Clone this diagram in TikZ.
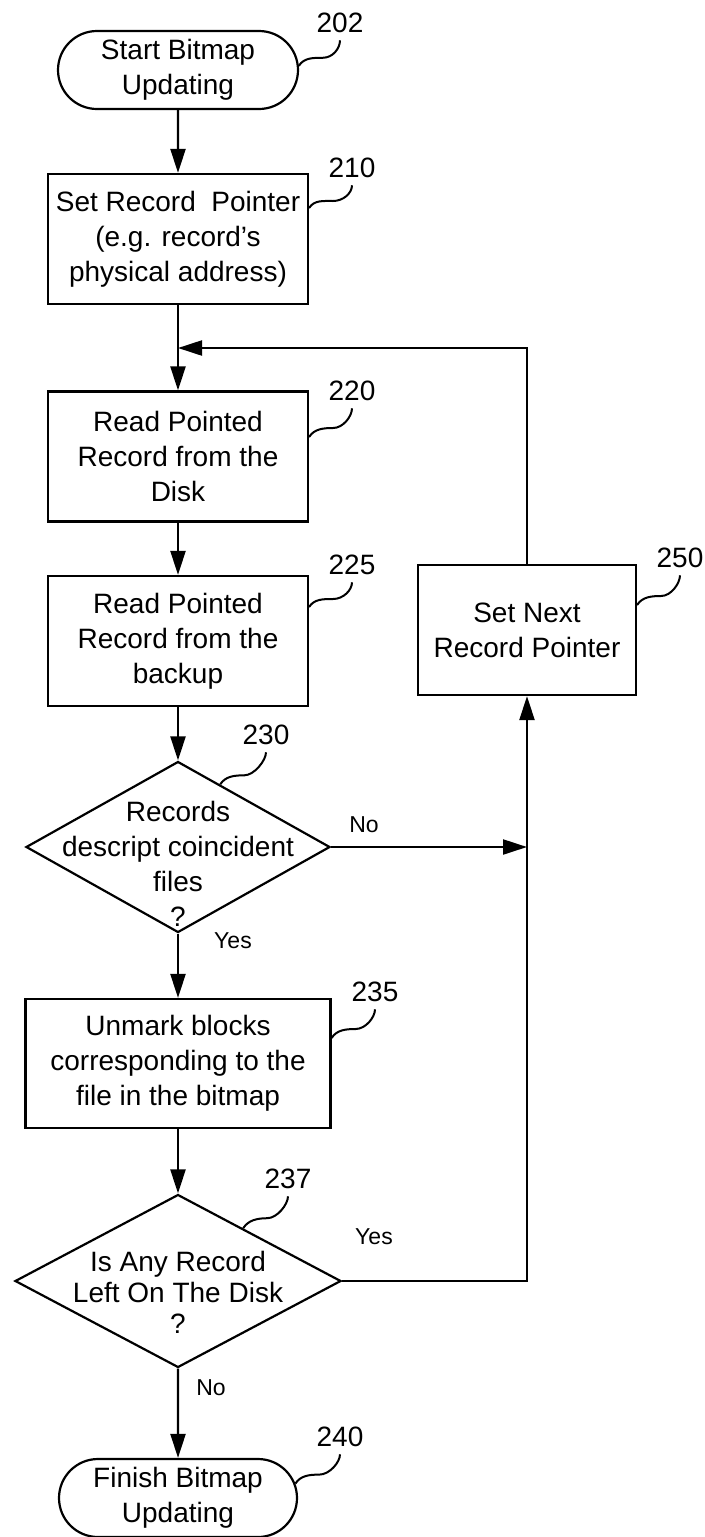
\documentclass[tikz,border=0pt]{standalone}
\usepackage{fontspec}
\setmainfont{Liberation Sans}
\usetikzlibrary{arrows.meta,shapes.geometric,shapes.misc}

\begin{document}
\begin{tikzpicture}[x=0.5pt,y=-0.5pt,
  every node/.style={font=\fontsize{14}{17.5}\selectfont},
  terminal/.style={rounded rectangle, draw, line width=1.1pt, align=center,
    minimum width=120pt, minimum height=39pt, inner sep=0pt},
  process/.style={rectangle, draw, line width=1.1pt, align=center,
    minimum height=65pt, inner sep=0pt},
  decision/.style={diamond, draw, line width=1.1pt, inner sep=0pt},
  dtext/.style={align=center, inner sep=0pt},
  flow/.style={line width=1.1pt, -{Triangle[length=12pt,width=7.5pt]}},
  callout/.style={line width=1pt},
  refnum/.style={inner sep=3.5pt},
  answer/.style={font=\fontsize{11.5}{14}\selectfont, inner sep=0pt}]
  \useasboundingbox (0,0) rectangle (705,1537);

  % main column
  \node[terminal] (t202) at (178,70) {Start Bitmap\\Updating};
  \node[process, minimum width=130pt] (b210) at (178,239)
    {Set Record\ \ Pointer\\(e.g. record’s\\physical address)};
  \node[process, minimum width=130pt] (b220) at (178,456.5)
    {Read Pointed\\Record from the\\Disk};
  \node[process, minimum width=130pt] (b225) at (178,641)
    {Read Pointed\\Record from the\\backup};
  \node[decision, minimum width=152pt, minimum height=85.5pt] (d230) at (178,847) {};
  \node[dtext] (d230t) at (178,864) {Records\\descript coincident\\files\\?};
  \node[process, minimum width=152.5pt, minimum height=64.5pt] (b235) at (178,1063.5)
    {Unmark blocks\\corresponding to the\\file in the bitmap};
  \node[decision, minimum width=163pt, minimum height=86.5pt] (d237) at (178,1281) {};
  \node[dtext, font=\fontsize{14}{15.5}\selectfont] (d237t) at (178,1292)
    {Is Any Record\\Left On The Disk\\?};
  \node[terminal, minimum width=119pt] (t240) at (178,1498) {Finish Bitmap\\Updating};

  % loop back
  \node[process, minimum width=109pt] (b250) at (527,630) {Set Next\\Record Pointer};
  \coordinate (jTop) at (178,348);

  % flow lines
  \draw[flow] (t202) -- (b210);
  \draw[flow] (b210) -- (b220);
  \draw[flow] (b250.north) |- (jTop);
  \draw[flow] (b220) -- (b225);
  \draw[flow] (b225) -- (d230);
  \draw[flow] (d230.east) -- (d230.east -| b250.south);
  \draw[flow] (d230) -- (b235);
  \draw[flow] (b235) -- (d237);
  \draw[flow] (d237.east) -| (b250.south);
  \draw[flow] (d237) -- (t240);

  \node[answer] (aNo1) at (364,825) {No};
  \node[answer] (aYes1) at (233,941) {Yes};
  \node[answer] (aYes2) at (374,1237) {Yes};
  \node[answer] (aNo2) at (211,1388) {No};

  % reference numbers
  \node[refnum] (n202) at (340,23) {202};
  \node[refnum] (n210) at (352,168) {210};
  \node[refnum] (n220) at (352,391) {220};
  \node[refnum] (n225) at (352,565) {225};
  \node[refnum] (n250) at (680,558) {250};
  \node[refnum] (n230) at (266,735) {230};
  \node[refnum] (n235) at (375,992) {235};
  \node[refnum] (n237) at (288,1179) {237};
  \node[refnum] (n240) at (340,1437) {240};

  \draw[callout] (t202.2) .. controls +(5,-8) and +(-10,0) .. ++(24,-8)
    .. controls +(10,0) and +(0,8) .. (n202.south);
  \draw[callout] ([yshift=15.5pt]b210.east) .. controls +(5,-8) and +(-10,0) .. ++(24,-7)
    .. controls +(10,0) and +(0,8) .. (n210.south);
  \draw[callout] ([yshift=9.75pt]b220.east) .. controls +(5,-8) and +(-10,0) .. ++(24,-9)
    .. controls +(10,0) and +(0,8) .. (n220.south);
  \draw[callout] ([yshift=17pt]b225.east) .. controls +(5,-8) and +(-10,0) .. ++(24,-8)
    .. controls +(10,0) and +(0,8) .. (n225.south);
  \draw[callout] ([yshift=12.5pt]b250.east) .. controls +(5,-8) and +(-10,0) .. ++(24,-9)
    .. controls +(10,0) and +(0,8) .. (n250.south);
  \draw[callout] (d230.56.5) .. controls +(5,-8) and +(-10,0) .. ++(24,-9)
    .. controls +(10,0) and +(0,8) .. (n230.south);
  \draw[callout] ([yshift=12.75pt]b235.east) .. controls +(5,-8) and +(-10,0) .. ++(24,-9)
    .. controls +(10,0) and +(0,8) .. (n235.south);
  \draw[callout] (d237.39) .. controls +(5,-8) and +(-10,0) .. ++(24,-10)
    .. controls +(10,0) and +(0,8) .. (n237.south);
  \draw[callout] (t240.7) .. controls +(5,-8) and +(-10,0) .. ++(24,-9)
    .. controls +(10,0) and +(0,8) .. (n240.south);
\end{tikzpicture}
\end{document}
